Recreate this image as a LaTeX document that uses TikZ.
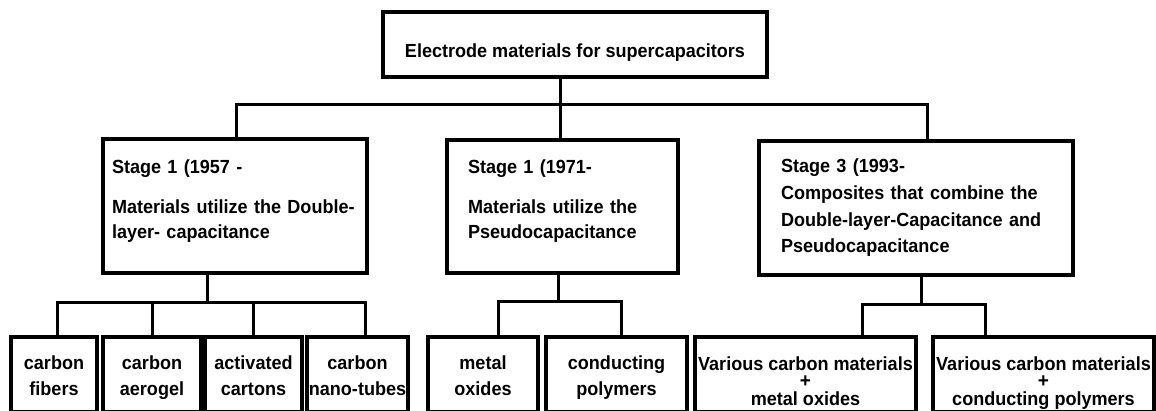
\documentclass[tikz,border=0pt]{standalone}
\usepackage{fontspec}
\setmainfont{Liberation Sans}[BoldFeatures={FakeStretch=0.95}]
\newcommand\leaftwo[2]{\rule{0pt}{21pt}#1\\#2\rule[-5pt]{0pt}{5pt}}
\newcommand\leafplus[2]{\rule{0pt}{31pt}#1\\{\fontsize{20}{17.5}\selectfont +}\\#2\rule[-5pt]{0pt}{5pt}}
\begin{document}
\begin{tikzpicture}[x=1pt,y=-1pt,
  box/.style={draw=black, line width=3.6pt, inner sep=0pt, font=\fontsize{19}{25}\selectfont\bfseries},
  stagebox/.style={box, align=left},
  leafbox/.style={box, align=center, minimum height=75pt},
  conn/.style={line width=3pt}
]
\useasboundingbox (0,0) rectangle (1156,411);

% top
\node[box, align=center, minimum width=384pt, minimum height=65pt] (top) at (575,44.5)
  {\rule{0pt}{29pt}Electrode materials for supercapacitors};

% stages
\node[stagebox, minimum width=264pt, minimum height=134pt, text width=246pt] (S1) at (235,206)
  {Stage 1 (1957 -\\[15pt]Materials utilize the Double-\\layer- capacitance\rule[-14pt]{0pt}{14pt}};
\node[stagebox, minimum width=231pt, minimum height=133pt, text width=189pt] (S2) at (562.5,206.5)
  {Stage 1 (1971-\\[15pt]Materials utilize the\\Pseudocapacitance\rule[-14pt]{0pt}{14pt}};
\node[stagebox, minimum width=314pt, minimum height=134pt, text width=270pt,
      font=\fontsize{19}{26.7}\selectfont\bfseries] (S3) at (916,208)
  {Stage 3 (1993-\\Composites that combine the\\Double-layer-Capacitance and\\Pseudocapacitance};

% leaves
\node[leafbox, minimum width=86pt]  (L1) at (54,374.5)   {\leaftwo{carbon}{fibers}};
\node[leafbox, minimum width=98pt]  (L2) at (152,374.5)  {\leaftwo{carbon}{aerogel}};
\node[leafbox, minimum width=97pt]  (L3) at (253.5,374.5){\leaftwo{activated}{cartons}};
\node[leafbox, minimum width=101pt] (L4) at (357.5,374.5){\leaftwo{carbon}{nano-tubes}};
\node[leafbox, minimum width=110pt] (L5) at (483,374.5)  {\leaftwo{metal}{oxides}};
\node[leafbox, minimum width=141pt] (L6) at (616.5,374.5){\leaftwo{conducting}{polymers}};
\node[leafbox, minimum width=221pt, font=\fontsize{19}{17.5}\selectfont\bfseries] (L7) at (805.5,374.5)
  {\leafplus{Various carbon materials}{metal oxides}};
\node[leafbox, minimum width=221pt, font=\fontsize{19}{17.5}\selectfont\bfseries] (L8) at (1043.5,374.5)
  {\leafplus{Various carbon materials}{conducting polymers}};

% connectors: top level
\coordinate (t1) at (560,105);
\coordinate (j1) at (236,105);
\coordinate (j3) at (927,105);
\draw[conn] (top.south -| t1) -- (S2.north -| t1);
\draw[conn] (S1.north -| j1) |- (j3) -- (S3.north -| j3);

% stage 1 children
\coordinate (k1) at (207,303);
\coordinate (m1) at (57,303);
\coordinate (m4) at (365,303);
\draw[conn] (S1.south -| k1) -- (k1);
\draw[conn] (L1.north -| m1) |- (m4) -- (L4.north -| m4);
\draw[conn] (L2.north) -- (L2.north |- m1);
\draw[conn] (L3.north) -- (L3.north |- m1);

% stage 2 children
\coordinate (k2) at (558,302);
\coordinate (m5) at (498,302);
\coordinate (m6) at (621,302);
\draw[conn] (S2.south -| k2) -- (k2);
\draw[conn] (L5.north -| m5) |- (m6) -- (L6.north -| m6);

% stage 3 children
\coordinate (k3) at (921,305);
\coordinate (m7) at (862,305);
\coordinate (m8) at (985,305);
\draw[conn] (S3.south -| k3) -- (k3);
\draw[conn] (L7.north -| m7) |- (m8) -- (L8.north -| m8);
\end{tikzpicture}
\end{document}
